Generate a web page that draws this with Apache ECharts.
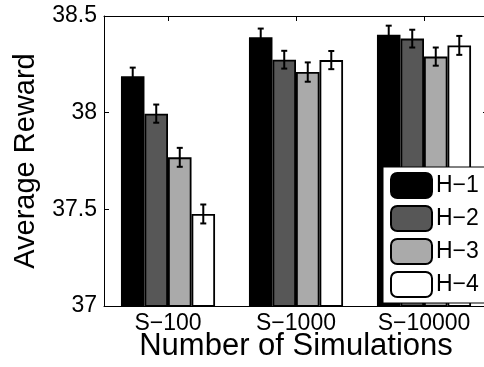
<!DOCTYPE html>
<html>
<head>
<meta charset="utf-8">
<script src="https://cdn.jsdelivr.net/npm/echarts@6/dist/echarts.min.js"></script>
<style>
  html, body { margin: 0; padding: 0; background: #fff; }
  #chart { width: 484px; height: 367px; }
</style>
</head>
<body>
<div id="chart"></div>
<script>
// Average reward per heuristic for each simulation budget
const categories = ['S\u2212100', 'S\u22121000', 'S\u221210000'];
const seriesNames = ['H\u22121', 'H\u22122', 'H\u22123', 'H\u22124'];
const h1Values = [38.188, 38.390, 38.403];
const h2Values = [37.995, 38.274, 38.383];
const h3Values = [37.769, 38.210, 38.290];
const h4Values = [37.476, 38.272, 38.348];
// Half-length of the error bars
const h1Errors = [0.045, 0.045, 0.047];
const h2Errors = [0.047, 0.046, 0.046];
const h3Errors = [0.049, 0.050, 0.047];
const h4Errors = [0.049, 0.047, 0.049];
const yTicks = ['37', '37.5', '38', '38.5'];

const values = [h1Values, h2Values, h3Values, h4Values];
const errors = [h1Errors, h2Errors, h3Errors, h4Errors];
const fills = ['#000000', '#575757', '#aaaaaa', '#ffffff'];
const FONT = '"Liberation Sans", Arial, Helvetica, sans-serif';
const CAT_GAP = 0.265;

const chart = echarts.init(document.getElementById('chart'), null, { renderer: 'canvas' });

const barSeries = seriesNames.map((name, k) => ({
  name: name,
  type: 'bar',
  data: values[k],
  barGap: '0%',
  barCategoryGap: (CAT_GAP * 100) + '%',
  itemStyle: { color: fills[k], borderColor: '#000', borderWidth: 1.8 },
  silent: true,
  z: 2
}));

const errorData = [];
values.forEach((vals, k) => {
  vals.forEach((v, i) => errorData.push([i, v, errors[k][i], k]));
});

const errorSeries = {
  type: 'custom',
  name: 'err',
  data: errorData,
  encode: { x: 0, y: 1 },
  z: 5,
  silent: true,
  renderItem: function (params, api) {
    const cat = api.value(0);
    const v = api.value(1);
    const e = api.value(2);
    const k = api.value(3);
    const band = api.size([1, 0])[0];
    const barW = band * (1 - CAT_GAP) / seriesNames.length;
    const cx = api.coord([cat, v])[0] + (k - (seriesNames.length - 1) / 2) * barW;
    const yHi = api.coord([cat, v + e])[1];
    const yLo = api.coord([cat, v - e])[1];
    const cap = 3;
    const style = { stroke: '#000', lineWidth: 2, fill: null };
    return {
      type: 'group',
      children: [
        { type: 'line', shape: { x1: cx, y1: yHi, x2: cx, y2: yLo }, style: style },
        { type: 'line', shape: { x1: cx - cap, y1: yHi, x2: cx + cap, y2: yHi }, style: style },
        { type: 'line', shape: { x1: cx - cap, y1: yLo, x2: cx + cap, y2: yLo }, style: style }
      ]
    };
  }
};

const axisLine = { show: true, lineStyle: { color: '#000', width: 1 } };

chart.setOption({
  animation: false,
  backgroundColor: '#fff',
  textStyle: { fontFamily: FONT },
  grid: { left: 104, right: -4, top: 16, bottom: 61, containLabel: false, outerBoundsMode: 'none' },
  legend: {
    data: seriesNames,
    orient: 'vertical',
    left: 383,
    top: 167,
    itemWidth: 41,
    itemHeight: 25,
    itemGap: 6,
    padding: [5, 8, 5, 7],
    backgroundColor: '#fff',
    borderColor: '#000',
    borderWidth: 1,
    icon: 'roundRect',
    textStyle: { fontFamily: FONT, fontSize: 23, color: '#000', padding: [0, 0, 0, -1] },
    selectedMode: false
  },
  xAxis: [
    {
      type: 'category',
      data: categories,
      position: 'bottom',
      axisLine: axisLine,
      axisTick: { show: true, inside: true, alignWithLabel: true, length: 5, lineStyle: { color: '#000' } },
      axisLabel: { fontFamily: FONT, fontSize: 23, color: '#000', margin: 6 },
      name: 'Number of Simulations',
      nameLocation: 'middle',
      nameGap: 25,
      nameMoveOverlap: false,
      nameTextStyle: { fontFamily: FONT, fontSize: 31, color: '#000', verticalAlign: 'top' }
    },
    {
      type: 'category',
      data: categories,
      position: 'top',
      axisLine: axisLine,
      axisTick: { show: true, inside: true, alignWithLabel: true, length: 5, lineStyle: { color: '#000' } },
      axisLabel: { show: false }
    }
  ],
  yAxis: [
    {
      type: 'value',
      min: 37,
      max: 38.5,
      interval: 0.5,
      position: 'left',
      splitLine: { show: false },
      axisLine: axisLine,
      axisTick: { show: true, inside: true, length: 5, lineStyle: { color: '#000' } },
      axisLabel: {
        fontFamily: FONT, fontSize: 23, color: '#000', margin: 7,
        formatter: function (v) { return yTicks[Math.round((v - 37) / 0.5)]; }
      },
      name: 'Average Reward',
      nameLocation: 'middle',
      nameGap: 64,
      nameMoveOverlap: false,
      nameTextStyle: { fontFamily: FONT, fontSize: 29, color: '#000' }
    },
    {
      type: 'value',
      min: 37,
      max: 38.5,
      interval: 0.5,
      position: 'right',
      splitLine: { show: false },
      axisLine: axisLine,
      axisTick: { show: true, inside: true, length: 5, lineStyle: { color: '#000' } },
      axisLabel: { show: false }
    }
  ],
  series: barSeries.concat([errorSeries])
});
</script>
</body>
</html>
